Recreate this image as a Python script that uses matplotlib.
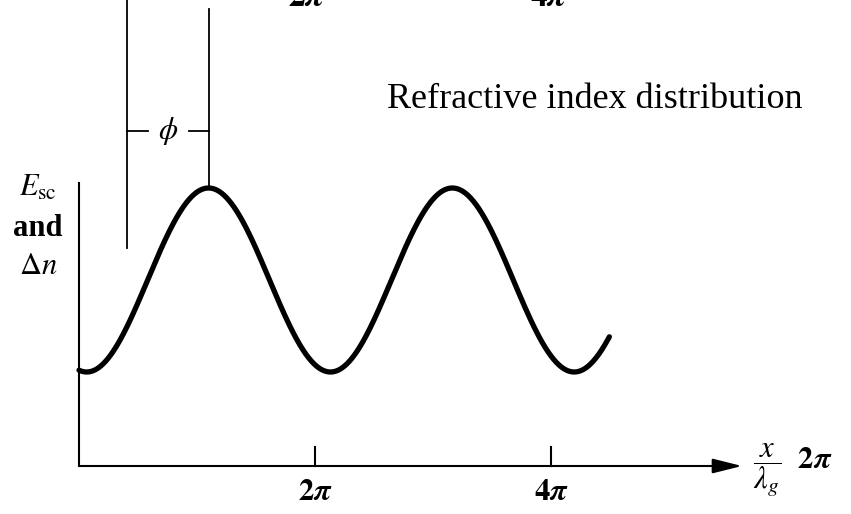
import numpy as np
import matplotlib
matplotlib.use("Agg")
import matplotlib.pyplot as plt

# ---------------- data ----------------
phase_start = 0.0          # x/lambda_g * 2pi where the curve starts
phase_end = 14.12          # where the curve ends
peak_phase = 3.45          # position of the first maximum of Delta n
period = 6.49              # period of the drawn distribution
amplitude = 1.0
light_peak_phase = 1.28    # left reference line (phase shift phi measured from here)
tick_values = [2 * np.pi, 4 * np.pi]
tick_labels = [r"$\mathbf{2}\boldsymbol{\pi}$", r"$\mathbf{4}\boldsymbol{\pi}$"]
top_labels = [r"$\boldsymbol{2\pi}$", r"$\boldsymbol{4\pi}$"]
title_text = "Refractive index distribution"

# ---------------- layout ----------------
plt.rcParams["mathtext.fontset"] = "stix"
plt.rcParams["font.family"] = ["Liberation Serif", "DejaVu Serif"]

W, H = 851, 514
fig = plt.figure(figsize=(W / 100, H / 100), dpi=100)
ax = fig.add_axes([0, 0, 1, 1])
ax.axis("off")

X0, SX = 79, 236 / (2 * np.pi)   # pixel of x=0, pixels per unit
Y0, SY = 280, 92                # pixel of y=0, pixels per unit
ax.set_xlim(-X0 / SX, (W - X0) / SX)
ax.set_ylim((Y0 - H) / SY, Y0 / SY)


def dx(px):
    return (px - X0) / SX


def dy(py):
    return (Y0 - py) / SY


def fx(px):
    return px / W


def fy(py):
    return 1 - py / H


# curve
x = np.linspace(phase_start, phase_end, 800)
y = amplitude * np.cos(2 * np.pi * (x - peak_phase) / period)
ax.plot(x, y, color="black", lw=3.8, solid_capstyle="round")

# axes
axis_y = dy(466)
ax.plot([0, 0], [axis_y, dy(183)], color="black", lw=1.5)
ax.annotate("", xy=(dx(742), axis_y), xytext=(0, axis_y),
            arrowprops=dict(arrowstyle="-|>,head_length=1.8,head_width=0.45",
                            mutation_scale=10, lw=1.5, color="black",
                            shrinkA=0, shrinkB=0))
for t, lab in zip(tick_values, tick_labels):
    ax.plot([t, t], [axis_y, dy(447)], color="black", lw=1.5)
    ax.text(t, dy(493), lab, ha="center", va="center", fontsize=22)

# phase bracket
ax.plot([light_peak_phase] * 2, [dy(-5), dy(248)], color="black", lw=1.3)
ax.plot([peak_phase] * 2, [dy(9), amplitude], color="black", lw=1.3)
yb = dy(131)
ax.plot([light_peak_phase, dx(148)], [yb, yb], color="black", lw=1.3)
ax.plot([dx(189), peak_phase], [yb, yb], color="black", lw=1.3)
ax.text((light_peak_phase + peak_phase) / 2, yb, r"$\phi$", ha="center",
        va="center", fontsize=22)

# texts
fig.text(fx(595), fy(100), title_text, ha="center", va="center", fontsize=26)
fig.text(fx(38), fy(188), r"$E_{\mathrm{sc}}$", ha="center", va="center", fontsize=22)
fig.text(fx(38), fy(228), "and", ha="center", va="center", fontsize=22,
         fontweight="bold")
fig.text(fx(38), fy(267), r"$\Delta n$", ha="center", va="center", fontsize=22)
fig.text(fx(793), fy(470), r"$\dfrac{x}{\lambda_g}\ \ \mathbf{2}\boldsymbol{\pi}$",
         ha="center", va="center", fontsize=22)

# cut-off labels of the panel above (the reference shows only their lower part)
for px, lab in zip([307, 549], top_labels):
    fig.text(fx(px), fy(6), lab, ha="center", va="baseline", fontsize=24)

fig.savefig("out.png", dpi=100, facecolor="white")
